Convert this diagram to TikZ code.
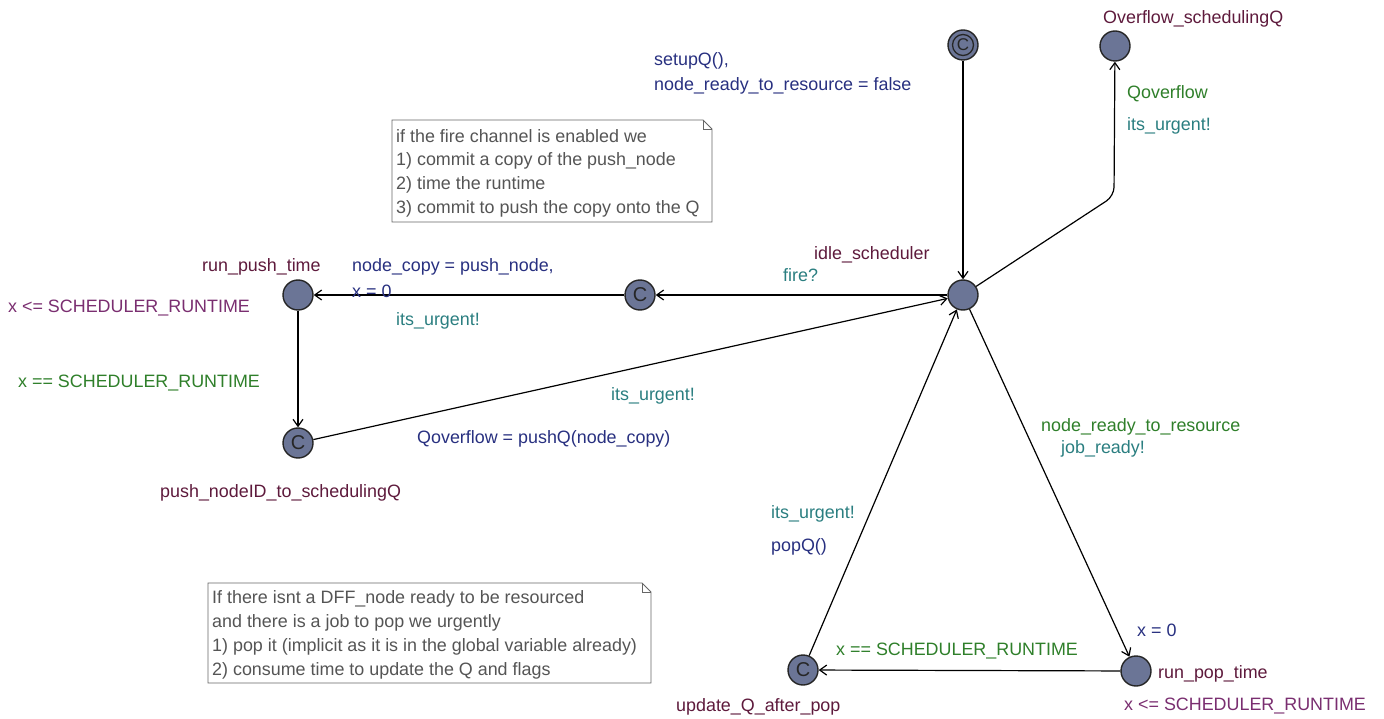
\documentclass[tikz,border=0pt]{standalone}
\usepackage{fontspec}
\setmainfont{Liberation Sans}
\usetikzlibrary{arrows.meta}
\definecolor{locfill}{HTML}{6B7596}
\definecolor{locname}{HTML}{5E1A3C}
\definecolor{invcol}{HTML}{7A2E70}
\definecolor{guardcol}{HTML}{2F7F2A}
\definecolor{synccol}{HTML}{2A7E80}
\definecolor{updcol}{HTML}{283080}
\definecolor{notecol}{HTML}{555555}
\tikzset{
  loc/.style={circle, draw=black!85, fill=locfill, line width=1.4pt, minimum size=30pt, inner sep=0pt},
  committedloc/.style={loc, font=\fontsize{20}{20}\selectfont, text=black!85},
  lbltext/.style={anchor=west, inner sep=0pt, yshift=-1.5pt, font=\fontsize{17.9}{21}\selectfont},
  locnamelbl/.style={lbltext, text=locname},
  invlbl/.style={lbltext, text=invcol},
  guardlbl/.style={lbltext, text=guardcol},
  synclbl/.style={lbltext, text=synccol},
  updlbl/.style={lbltext, text=updcol},
  notelbl/.style={lbltext, text=notecol},
  trans/.style={draw=black, line width=1.2pt, -{Straight Barb[length=7pt, width=10pt, line width=1.2pt]}},
  notebox/.style={draw=black!60, line width=0.9pt, fill=white}
}
\begin{document}
\begin{tikzpicture}[x=1pt, y=-1pt]
\useasboundingbox (0,0) rectangle (1384,719);

% locations
\node[committedloc] (init) at (963,45) {};
\draw[line width=1.3pt, draw=black!85] (init.center) circle (10.5pt);
\node[inner sep=0pt, font=\fontsize{17}{17}\selectfont, text=black!85] (initc) at (init.center) {C};
\node[loc] (ovf) at (1115,46) {};
\node[loc] (idle) at (963,295) {};
\node[committedloc] (cpush) at (640,295) {C};
\node[loc] (runpush) at (298,295) {};
\node[committedloc] (pushq) at (298,443) {C};
\node[committedloc] (updq) at (803,670) {C};
\node[loc] (runpop) at (1136,671) {};

% location names and invariants
\node[locnamelbl] (n1) at (1103,17) {Overflow\_schedulingQ};
\node[locnamelbl] (n2) at (814,253) {idle\_scheduler};
\node[locnamelbl] (n3) at (202,265) {run\_push\_time};
\node[invlbl] (i1) at (8,307) {x <= SCHEDULER\_RUNTIME};
\node[locnamelbl] (n4) at (160,491) {push\_nodeID\_to\_schedulingQ};
\node[locnamelbl] (n5) at (676,705) {update\_Q\_after\_pop};
\node[locnamelbl] (n6) at (1158,672) {run\_pop\_time};
\node[invlbl] (i2) at (1124,705) {x <= SCHEDULER\_RUNTIME};

% transitions
\draw[trans] (init) -- (idle);
\node[updlbl] (u1) at (654,59) {setupQ(),};
\node[updlbl] (u2) at (654,84) {node\_ready\_to\_resource = false};

\coordinate (ovfbend) at (1114,196);
\draw[trans, rounded corners=9pt] (idle) -- (ovfbend) -- (ovf);
\node[guardlbl] (g1) at (1127,92) {Qoverflow};
\node[synclbl] (s1) at (1127,124) {its\_urgent!};

\draw[trans] (idle) -- (cpush);
\node[synclbl] (s2) at (783,274) {fire?};

\draw[trans] (cpush) -- (runpush);
\node[updlbl] (u3) at (352,265) {node\_copy = push\_node,};
\node[updlbl] (u4) at (352,290) {x = 0};
\node[synclbl] (s3) at (396,319) {its\_urgent!};

\draw[trans] (runpush) -- (pushq);
\node[guardlbl] (g2) at (18,382) {x == SCHEDULER\_RUNTIME};

\draw[trans] (pushq) -- (idle);
\node[synclbl] (s4) at (611,394) {its\_urgent!};
\node[updlbl] (u5) at (417,437) {Qoverflow = pushQ(node\_copy)};

\draw[trans] (idle) -- (runpop);
\node[guardlbl] (g3) at (1041,425) {node\_ready\_to\_resource};
\node[synclbl] (s5) at (1061,447) {job\_ready!};
\node[updlbl] (u6) at (1137,629) {x = 0};

\draw[trans] (runpop) -- (updq);
\node[guardlbl] (g4) at (836,650) {x == SCHEDULER\_RUNTIME};

\draw[trans] (updq) -- (idle);
\node[synclbl] (s6) at (771,512) {its\_urgent!};
\node[updlbl] (u7) at (771,545) {popQ()};

% comment notes
\draw[notebox] (392,120) -- (703,120) -- (712,129) -- (712,222) -- (392,222) -- cycle;
\draw[draw=black!60, line width=0.9pt] (703,120) -- (703,129) -- (712,129);
\node[notelbl] (c1) at (396,135) {if the fire channel is enabled we};
\node[notelbl] (c2) at (396,159) {1) commit a copy of the push\_node};
\node[notelbl] (c3) at (396,183) {2) time the runtime};
\node[notelbl] (c4) at (396,207) {3) commit to push the copy onto the Q};

\draw[notebox] (208,583) -- (642,583) -- (651,592) -- (651,683) -- (208,683) -- cycle;
\draw[draw=black!60, line width=0.9pt] (642,583) -- (642,592) -- (651,592);
\node[notelbl] (d1) at (212,597) {If there isnt a DFF\_node ready to be resourced};
\node[notelbl] (d2) at (212,621) {and there is a job to pop we urgently};
\node[notelbl] (d3) at (212,645) {1) pop it (implicit as it is in the global variable already)};
\node[notelbl] (d4) at (212,669) {2) consume time to update the Q and flags};
\end{tikzpicture}
\end{document}
